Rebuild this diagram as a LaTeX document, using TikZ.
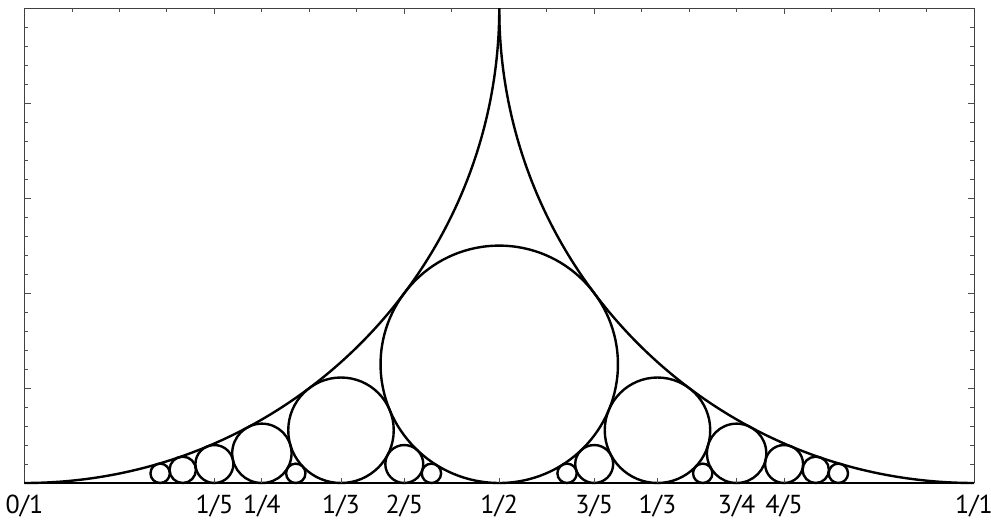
\documentclass[tikz,border=0pt]{standalone}
\usepackage{fontspec}
\setmainfont{PT Sans}
\begin{document}
\begin{tikzpicture}[x=949.5pt,y=949.5pt,
  curve/.style={line width=2.4pt,black},
  frame/.style={line width=1pt,black!75},
  tickmark/.style={line width=0.9pt,black!70},
  lab/.style={anchor=base,font=\fontsize{26}{26}\selectfont,inner sep=0pt}]
\useasboundingbox (-24.5pt,-38pt) rectangle (966.5pt,483pt);
\fill[white] (-24.5pt,-38pt) rectangle (966.5pt,483pt);
% frame
\draw[frame] (0,0) rectangle (1,0.5);
% left and right ticks
\foreach \k in {1,...,24}{
  \pgfmathsetmacro{\yy}{0.02*\k}
  \pgfmathtruncatemacro{\m}{mod(\k,5)}
  \ifnum\m=0
    \draw[tickmark] (0,\yy) -- ++(6.5pt,0);
    \draw[tickmark] (1,\yy) -- ++(-6.5pt,0);
  \else
    \draw[tickmark] (0,\yy) -- ++(4pt,0);
    \draw[tickmark] (1,\yy) -- ++(-4pt,0);
  \fi
}
% top ticks
\foreach \k in {1,...,19}{
  \pgfmathsetmacro{\xx}{0.05*\k}
  \pgfmathtruncatemacro{\m}{mod(\k,4)}
  \ifnum\m=0
    \draw[tickmark] (\xx,0.5) -- ++(0,-6pt);
  \else
    \draw[tickmark] (\xx,0.5) -- ++(0,-3.5pt);
  \fi
}
% bottom axis
\draw[line width=1.3pt] (0,0) -- (1,0);
% big arcs
\draw[curve] (0,0) arc (-90:0:0.5);
\draw[curve] (1,0) arc (-90:-180:0.5);
% Ford circles
\foreach \p/\q in {1/2,1/3,2/3,1/4,3/4,1/5,2/5,3/5,4/5,1/6,5/6,1/7,2/7,3/7,4/7,5/7,6/7}{
  \pgfmathsetmacro{\r}{1/(2*\q*\q)}
  \pgfmathsetmacro{\c}{\p/\q}
  \draw[curve] (\c,\r) circle (\r);
}
% bottom ticks at labelled points
\foreach \c in {0.2,0.25,0.333333,0.4,0.5,0.6,0.666667,0.75,0.8}{
  \draw[tickmark] (\c,0) -- ++(0,5pt);
}
% labels
\node[lab] (l0) at (0,-31pt) {0/1};
\node[lab] (l15) at (0.2,-31pt) {1/5};
\node[lab] (l14) at (0.25,-31pt) {1/4};
\node[lab] (l13) at (0.333333,-31pt) {1/3};
\node[lab] (l25) at (0.4,-31pt) {2/5};
\node[lab] (l12) at (0.5,-31pt) {1/2};
\node[lab] (l35) at (0.6,-31pt) {3/5};
\node[lab] (l23) at (0.666667,-31pt) {1/3};
\node[lab] (l34) at (0.75,-31pt) {3/4};
\node[lab] (l45) at (0.8,-31pt) {4/5};
\node[lab] (l1) at (1,-31pt) {1/1};
\end{tikzpicture}
\end{document}
